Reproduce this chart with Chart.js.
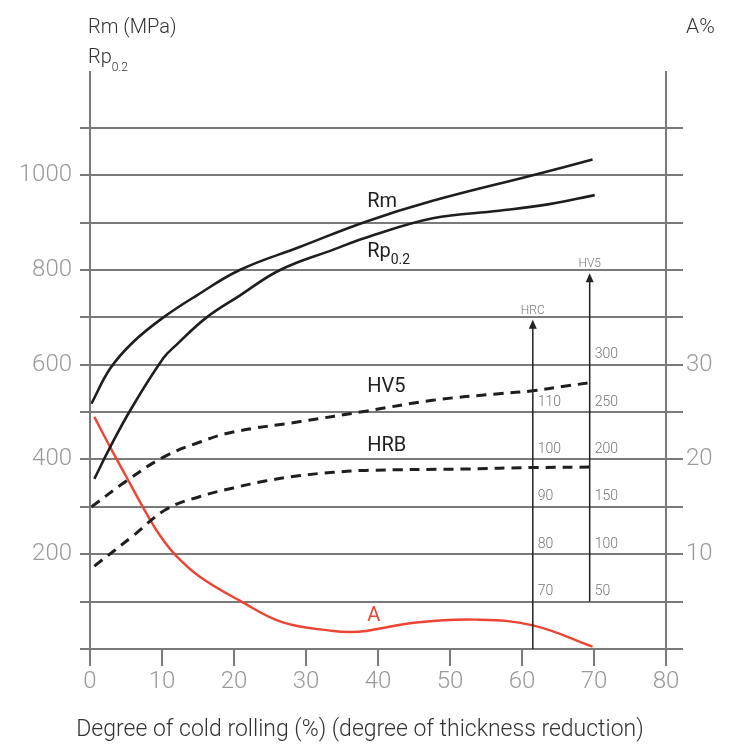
<!DOCTYPE html>
<html>
<head>
<meta charset="utf-8">
<script src="https://cdn.jsdelivr.net/npm/chart.js@4/dist/chart.umd.min.js"></script>
<style>
  html, body { margin: 0; padding: 0; background: #fff; }
  #wrap { width: 732px; height: 745px; }
</style>
</head>
<body>
<div id="wrap"><canvas id="chart" width="732" height="745"></canvas></div>
<script>
// values
const rmX = [0.2, 2.8, 6, 10.2, 14.8, 20.8, 29.2, 38.3, 47.6, 61.5, 69.8];
const rmY = [518, 592, 648, 700, 746, 800, 849, 902, 946, 1000, 1033];

const rpX = [0.6, 2.8, 5.6, 10.2, 12, 16.2, 20.8, 26.4, 33.8, 38.3, 47.6, 56.8, 63.8, 70.1];
const rpY = [359, 426, 504, 614, 642, 700, 746, 800, 843, 868, 909, 925, 939, 958];

const hv5X = [0.2, 5.1, 10.2, 15.3, 19.9, 29.2, 38.3, 47.6, 56.8, 61.5, 66.1, 69.4];
const hv5Y = [300, 355, 405, 437, 458, 480, 502, 525, 539, 545, 555, 562];

const hrbX = [0.6, 6, 10.6, 15.3, 19.9, 24.5, 29.2, 33.8, 38.3, 52.2, 61.5, 70.2];
const hrbY = [175, 239, 295, 322, 340, 355, 366, 373, 377, 380, 383, 384];

const aX = [0.6, 2.8, 5.1, 7.4, 9.7, 12, 15.3, 20.8, 26.8, 33.8, 36.1, 38.3, 45.3, 53.6, 61.5, 69.8];
const aY = [24.5, 21.3, 18.1, 14.9, 12.0, 9.8, 7.6, 5.1, 2.8, 1.9, 1.8, 1.9, 2.8, 3.1, 2.5, 0.25];

const xTicks = [0, 10, 20, 30, 40, 50, 60, 70, 80];
const leftLabels = [200, 400, 600, 800, 1000];
const rightLabels = [10, 20, 30];

// hardness scales beside the arrows (label, MPa gridline it sits on)
const hrcLabels = [70, 80, 90, 100, 110];
const hrcAt = [100, 200, 300, 400, 500];
const hv5Labels = [50, 100, 150, 200, 250, 300];
const hv5At = [100, 200, 300, 400, 500, 600];
const hrcArrow = { x: 61.5, from: 0, to: 695 };
const hv5Arrow = { x: 69.4, from: 100, to: 793 };

const curveLabels = [
  { text: 'Rm', sub: '', x: 38.5, y: 943, color: '#222' },
  { text: 'Rp', sub: '0.2', x: 38.5, y: 838, color: '#222' },
  { text: 'HV5', sub: '', x: 38.5, y: 553, color: '#222' },
  { text: 'HRB', sub: '', x: 38.5, y: 429, color: '#222' },
  { text: 'A', sub: '', x: 38.5, y: 69, color: '#ee4433' }
];

const FONT = 'Roboto, "Open Sans", sans-serif';
const GRID = '#7a7a7a';

function pts(xs, ys) {
  return xs.map((x, i) => ({ x: x, y: ys[i] }));
}

const decor = {
  id: 'decor',
  afterDraw(chart) {
    const c = chart.ctx;
    const x = chart.scales.x, y = chart.scales.y;
    c.save();
    // vertical axis lines
    c.strokeStyle = GRID;
    c.lineWidth = 2;
    [0, 80].forEach(v => {
      const px = x.getPixelForValue(v);
      c.beginPath();
      c.moveTo(px, chart.chartArea.top);
      c.lineTo(px, chart.chartArea.bottom + 17);
      c.stroke();
    });

    // arrows
    c.strokeStyle = '#222';
    c.fillStyle = '#222';
    c.lineWidth = 1.5;
    [hrcArrow, hv5Arrow].forEach(a => {
      const px = x.getPixelForValue(a.x);
      const y0 = y.getPixelForValue(a.from);
      const y1 = y.getPixelForValue(a.to);
      c.beginPath();
      c.moveTo(px, y0);
      c.lineTo(px, y1 + 4);
      c.stroke();
      c.beginPath();
      c.moveTo(px, y1);
      c.lineTo(px - 4, y1 + 9);
      c.lineTo(px + 4, y1 + 9);
      c.closePath();
      c.fill();
    });

    c.fillStyle = '#777';
    c.font = '300 12px ' + FONT;
    c.textAlign = 'center';
    c.textBaseline = 'bottom';
    c.fillText('HRC', x.getPixelForValue(hrcArrow.x), y.getPixelForValue(hrcArrow.to) - 3);
    c.fillText('HV5', x.getPixelForValue(hv5Arrow.x), y.getPixelForValue(hv5Arrow.to) - 3);

    c.font = '300 14px ' + FONT;
    c.textAlign = 'left';
    c.textBaseline = 'bottom';
    hrcLabels.forEach((l, i) => {
      c.fillText(String(l), x.getPixelForValue(hrcArrow.x) + 5, y.getPixelForValue(hrcAt[i]) - 3);
    });
    hv5Labels.forEach((l, i) => {
      c.fillText(String(l), x.getPixelForValue(hv5Arrow.x) + 5, y.getPixelForValue(hv5At[i]) - 3);
    });

    // curve names
    curveLabels.forEach(l => {
      const px = x.getPixelForValue(l.x);
      const py = y.getPixelForValue(l.y);
      c.fillStyle = l.color;
      c.font = '20px ' + FONT;
      c.textAlign = 'left';
      c.textBaseline = 'middle';
      c.fillText(l.text, px, py);
      if (l.sub) {
        const w = c.measureText(l.text).width;
        c.font = '14px ' + FONT;
        c.fillText(l.sub, px + w, py + 9);
      }
    });

    // axis headings
    c.fillStyle = '#333';
    c.font = '300 20px ' + FONT;
    c.textAlign = 'left';
    c.textBaseline = 'middle';
    c.fillText('Rm (MPa)', 88, 28);
    c.fillText('Rp', 88, 58);
    const rw = c.measureText('Rp').width;
    c.font = '300 12px ' + FONT;
    c.fillText('0.2', 88 + rw, 68);
    c.font = '300 21px ' + FONT;
    c.fillText('A%', 686, 28);

    c.font = '300 23px ' + FONT;
    c.textAlign = 'center';
    c.fillText('Degree of cold rolling (%) (degree of thickness reduction)', 360, 730);
    c.restore();
  }
};

function renderChart() {
  const ctx = document.getElementById('chart').getContext('2d');
  new Chart(ctx, {
    type: 'line',
    data: {
      datasets: [
        { label: 'Rm', data: pts(rmX, rmY), borderColor: '#1e1e1e', borderWidth: 2.6, yAxisID: 'y' },
        { label: 'Rp0.2', data: pts(rpX, rpY), borderColor: '#1e1e1e', borderWidth: 2.6, yAxisID: 'y' },
        { label: 'HV5', data: pts(hv5X, hv5Y), borderColor: '#1e1e1e', borderWidth: 3, borderDash: [10, 7], yAxisID: 'y' },
        { label: 'HRB', data: pts(hrbX, hrbY), borderColor: '#1e1e1e', borderWidth: 3, borderDash: [10, 7], yAxisID: 'y' },
        { label: 'A', data: pts(aX, aY), borderColor: '#ee4433', borderWidth: 2.4, yAxisID: 'y2' }
      ]
    },
    options: {
      responsive: false,
      animation: false,
      layout: { padding: { top: 71, left: 0, right: 0, bottom: 0 } },
      elements: {
        point: { radius: 0 },
        line: { tension: 0.4, fill: false }
      },
      plugins: { legend: { display: false }, tooltip: { enabled: false } },
      scales: {
        x: {
          type: 'linear',
          min: 0, max: 80,
          afterBuildTicks: s => { s.ticks = xTicks.map(v => ({ value: v })); },
          afterFit: s => { s.height = 96; },
          border: { display: false },
          grid: { drawOnChartArea: false, tickLength: 17, tickColor: GRID, lineWidth: 2 },
          ticks: { color: '#9a9a9a', padding: 2, font: { family: FONT, size: 24, weight: '300' } }
        },
        y: {
          position: 'left',
          min: 0, max: 1220,
          ticks: {
            stepSize: 100,
            color: '#9a9a9a', padding: 8,
            font: { family: FONT, size: 24, weight: '300' },
            callback: v => leftLabels.includes(v) ? String(v) : ''
          },
          afterBuildTicks: s => { s.ticks = s.ticks.filter(t => t.value % 100 === 0); },
          afterFit: s => { s.width = 90; },
          border: { display: false },
          grid: { color: GRID, lineWidth: 2, tickLength: 10 }
        },
        y2: {
          position: 'right',
          min: 0, max: 61,
          ticks: {
            stepSize: 5,
            color: '#9a9a9a', padding: 3,
            font: { family: FONT, size: 24, weight: '300' },
            callback: v => rightLabels.includes(v) ? String(v) : ''
          },
          afterBuildTicks: s => { s.ticks = s.ticks.filter(t => t.value % 5 === 0); },
          afterFit: s => { s.width = 66; },
          border: { display: false },
          grid: { drawOnChartArea: false, color: GRID, lineWidth: 2, tickLength: 17 }
        }
      }
    },
    plugins: [decor]
  });
}
renderChart();
</script>
</body>
</html>
